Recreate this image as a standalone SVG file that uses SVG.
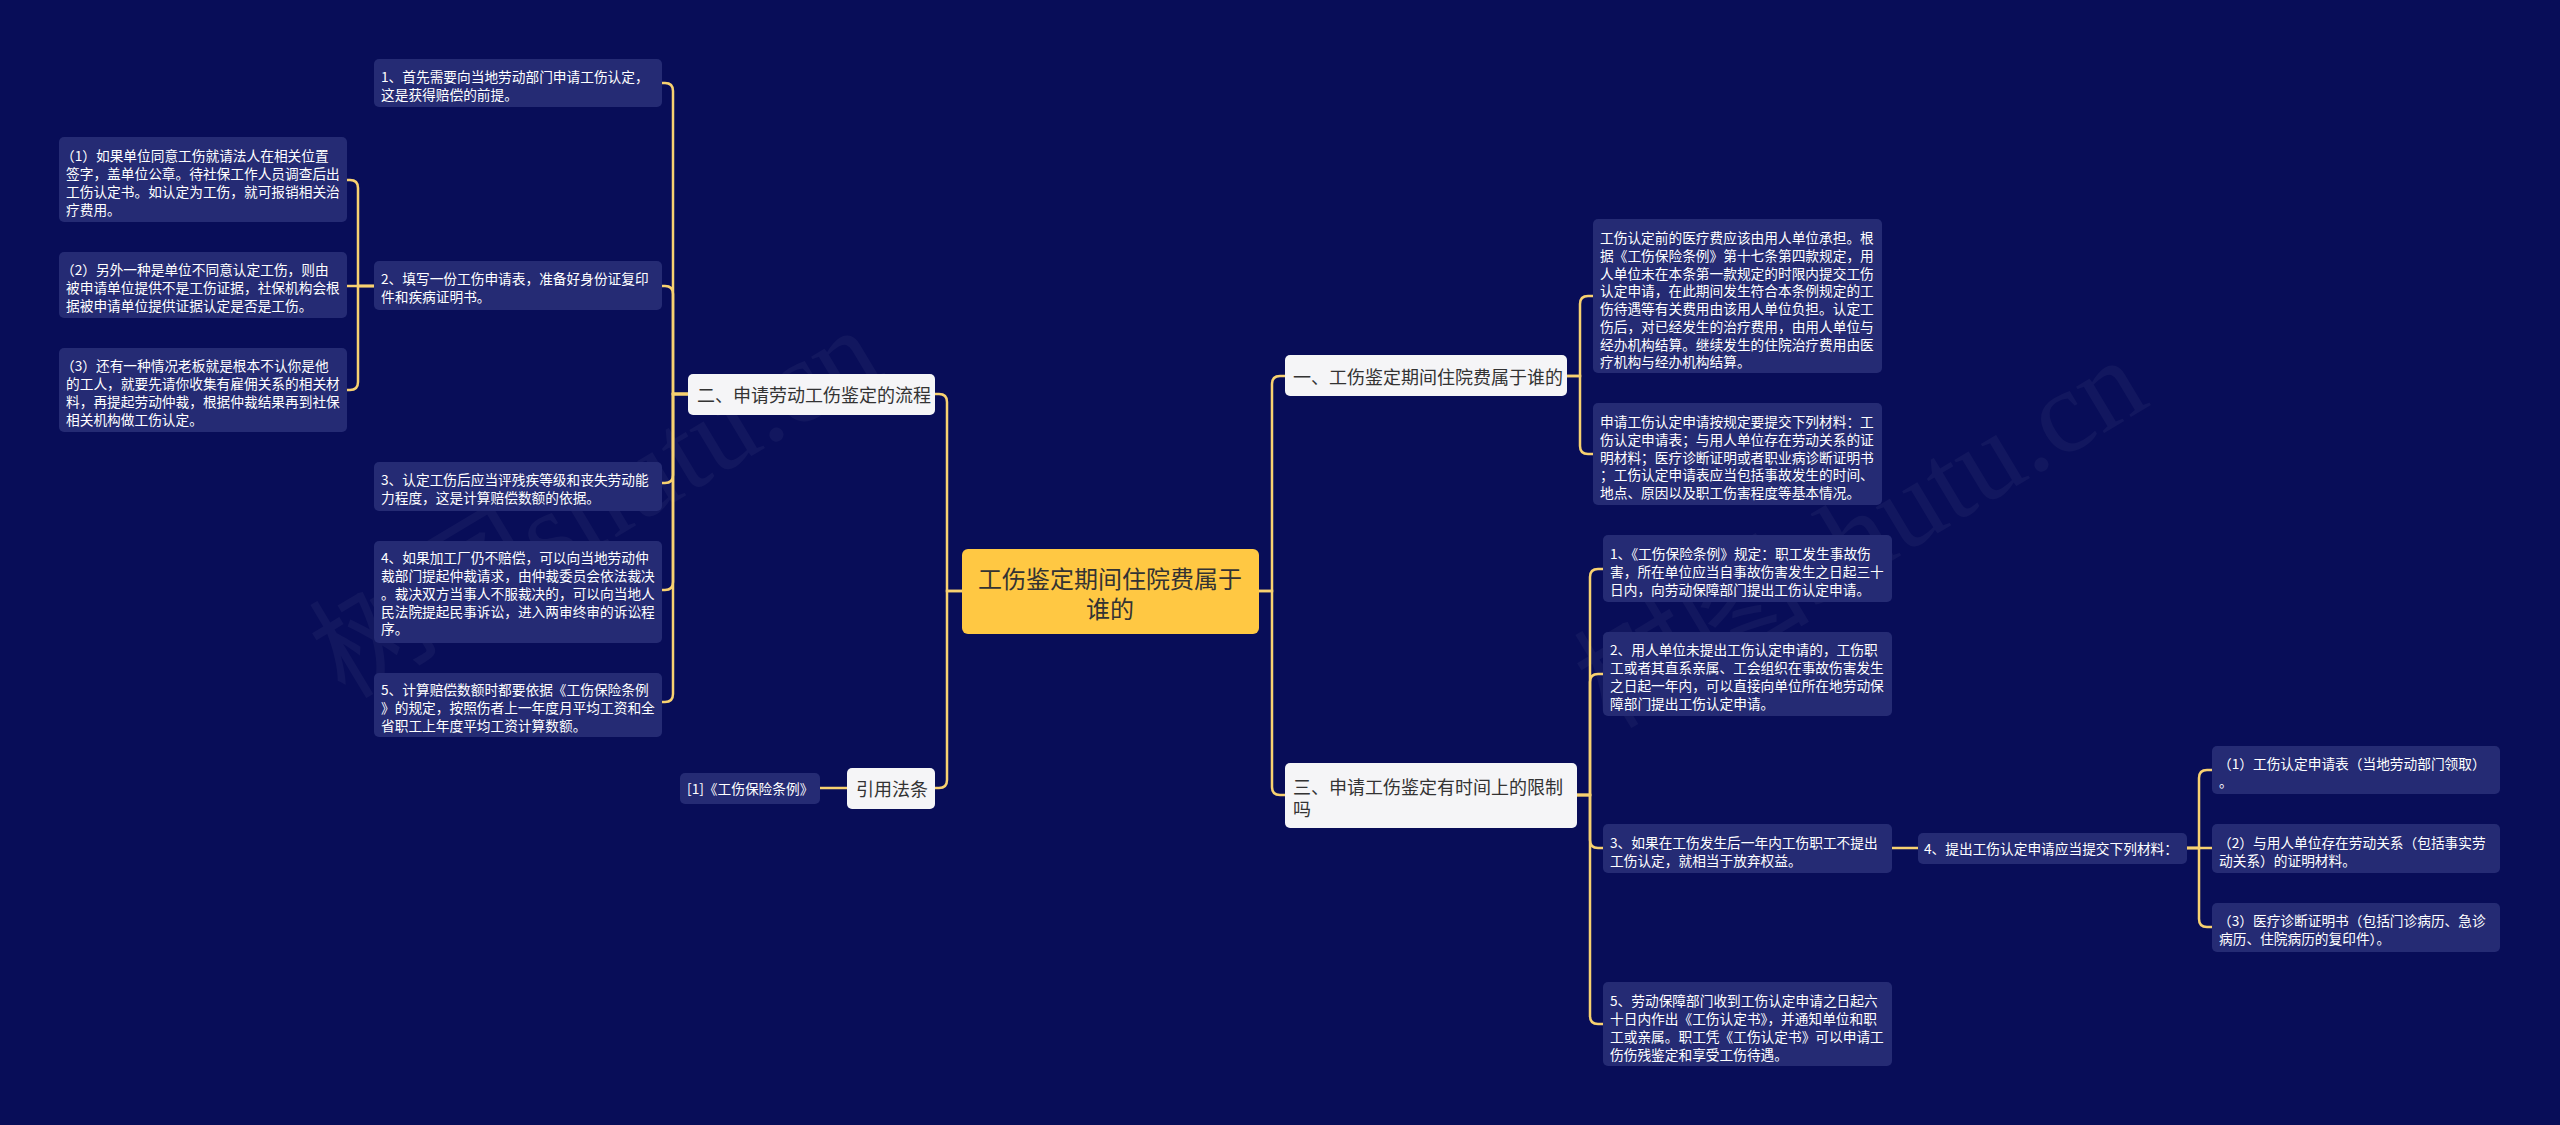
<svg xmlns="http://www.w3.org/2000/svg" width="2560" height="1125" viewBox="0 0 2560 1125">
<style>
.bg{fill:#080d58}
.box{fill:#252b74}
.l1{fill:#f5f5f7}
.t{font-family:"Noto Sans CJK SC","Noto Sans",sans-serif;font-size:13.7px;fill:#ffffff;dominant-baseline:central}
.t1{font-family:"Noto Sans CJK SC","Noto Sans",sans-serif;font-size:18px;fill:#333333;dominant-baseline:central}
.tc{font-family:"Noto Sans CJK SC","Noto Sans",sans-serif;font-size:24px;fill:#333333;dominant-baseline:central;text-anchor:middle}
.c{fill:none;stroke:#f8d170;stroke-width:2.5}
.wm{font-family:"Liberation Serif","Noto Sans CJK SC",serif;font-size:118px;fill:#ffffff;opacity:0.04}
</style>
<rect class="bg" x="0" y="0" width="2560" height="1125"/>
<g id="watermarks">
<text class="wm" transform="translate(345 700) rotate(-31)">树图shutu.cn</text>
<text class="wm" transform="translate(1610 730) rotate(-31)">树图shutu.cn</text>
</g>
<g id="connectors">
<path class="c" d="M962 591 H947 V402 Q947 394 939 394 H935"/>
<path class="c" d="M962 591 H947 V780 Q947 788 939 788 H935"/>
<path class="c" d="M688 394 H673 V91 Q673 83 665 83 H662"/>
<path class="c" d="M688 394 H673 V294 Q673 286 665 286 H662"/>
<path class="c" d="M688 394 H673 V475 Q673 483 665 483 H662"/>
<path class="c" d="M688 394 H673 V582 Q673 590 665 590 H662"/>
<path class="c" d="M688 394 H673 V694 Q673 702 665 702 H662"/>
<path class="c" d="M374 286 H358 V188 Q358 180 350 180 H347"/>
<path class="c" d="M374 286 H347"/>
<path class="c" d="M374 286 H358 V382 Q358 390 350 390 H347"/>
<path class="c" d="M847 788 H820"/>
<path class="c" d="M1259 591 H1272 V384 Q1272 376 1280 376 H1285"/>
<path class="c" d="M1259 591 H1272 V787 Q1272 795 1280 795 H1285"/>
<path class="c" d="M1567 376 H1580 V304 Q1580 296 1588 296 H1593"/>
<path class="c" d="M1567 376 H1580 V446 Q1580 454 1588 454 H1593"/>
<path class="c" d="M1577 795 H1590 V577 Q1590 569 1598 569 H1603"/>
<path class="c" d="M1577 795 H1590 V682 Q1590 674 1598 674 H1603"/>
<path class="c" d="M1577 795 H1590 V840 Q1590 848 1598 848 H1603"/>
<path class="c" d="M1577 795 H1590 V1016 Q1590 1024 1598 1024 H1603"/>
<path class="c" d="M1892 848 H1918"/>
<path class="c" d="M2187 848 H2199 V778 Q2199 770 2207 770 H2212"/>
<path class="c" d="M2187 848 H2212"/>
<path class="c" d="M2187 848 H2199 V919 Q2199 927 2207 927 H2212"/>
</g>
<g id="center">
<rect x="962" y="549" width="297" height="85" rx="6" fill="#ffc843"/>
<text class="tc" x="1110" y="577">工伤鉴定期间住院费属于</text>
<text class="tc" x="1110" y="607">谁的</text>
</g>
<g id="n-er">
<rect class="l1" x="688" y="374" width="247" height="41" rx="5"/>
<text class="t1" x="697" y="394">二、申请劳动工伤鉴定的流程</text>
</g>
<g id="n-yinyong">
<rect class="l1" x="847" y="768" width="88" height="41" rx="5"/>
<text class="t1" x="856" y="788">引用法条</text>
</g>
<g id="n-law">
<rect class="box" x="680" y="773" width="140" height="31" rx="5"/>
<text class="t" x="687" y="788">[1]《工伤保险条例》</text>
</g>
<g id="n-l1">
<rect class="box" x="374" y="59" width="288" height="48" rx="5"/>
<text class="t" x="381" y="76">1、首先需要向当地劳动部门申请工伤认定，</text>
<text class="t" x="381" y="94">这是获得赔偿的前提。</text>
</g>
<g id="n-l2">
<rect class="box" x="374" y="261" width="288" height="49" rx="5"/>
<text class="t" x="381" y="278">2、填写一份工伤申请表，准备好身份证复印</text>
<text class="t" x="381" y="296">件和疾病证明书。</text>
</g>
<g id="n-l3">
<rect class="box" x="374" y="462" width="288" height="49" rx="5"/>
<text class="t" x="381" y="479">3、认定工伤后应当评残疾等级和丧失劳动能</text>
<text class="t" x="381" y="497">力程度，这是计算赔偿数额的依据。</text>
</g>
<g id="n-l4">
<rect class="box" x="374" y="541" width="288" height="102" rx="5"/>
<text class="t" x="381" y="557">4、如果加工厂仍不赔偿，可以向当地劳动仲</text>
<text class="t" x="381" y="575">裁部门提起仲裁请求，由仲裁委员会依法裁决</text>
<text class="t" x="381" y="593">。裁决双方当事人不服裁决的，可以向当地人</text>
<text class="t" x="381" y="611">民法院提起民事诉讼，进入两审终审的诉讼程</text>
<text class="t" x="381" y="628">序。</text>
</g>
<g id="n-l5">
<rect class="box" x="374" y="673" width="288" height="64" rx="5"/>
<text class="t" x="381" y="689">5、计算赔偿数额时都要依据《工伤保险条例</text>
<text class="t" x="381" y="707">》的规定，按照伤者上一年度月平均工资和全</text>
<text class="t" x="381" y="725">省职工上年度平均工资计算数额。</text>
</g>
<g id="n-fl1">
<rect class="box" x="59" y="137" width="288" height="85" rx="5"/>
<text class="t" x="61" y="155">（1）如果单位同意工伤就请法人在相关位置</text>
<text class="t" x="66" y="173">签字，盖单位公章。待社保工作人员调查后出</text>
<text class="t" x="66" y="191">工伤认定书。如认定为工伤，就可报销相关治</text>
<text class="t" x="66" y="209">疗费用。</text>
</g>
<g id="n-fl2">
<rect class="box" x="59" y="252" width="288" height="66" rx="5"/>
<text class="t" x="61" y="269">（2）另外一种是单位不同意认定工伤，则由</text>
<text class="t" x="66" y="287">被申请单位提供不是工伤证据，社保机构会根</text>
<text class="t" x="66" y="305">据被申请单位提供证据认定是否是工伤。</text>
</g>
<g id="n-fl3">
<rect class="box" x="59" y="348" width="288" height="84" rx="5"/>
<text class="t" x="61" y="365">（3）还有一种情况老板就是根本不认你是他</text>
<text class="t" x="66" y="383">的工人，就要先请你收集有雇佣关系的相关材</text>
<text class="t" x="66" y="401">料，再提起劳动仲裁，根据仲裁结果再到社保</text>
<text class="t" x="66" y="419">相关机构做工伤认定。</text>
</g>
<g id="n-yi">
<rect class="l1" x="1285" y="355" width="282" height="41" rx="5"/>
<text class="t1" x="1293" y="376">一、工伤鉴定期间住院费属于谁的</text>
</g>
<g id="n-san">
<rect class="l1" x="1285" y="763" width="292" height="65" rx="5"/>
<text class="t1" x="1293" y="786">三、申请工伤鉴定有时间上的限制</text>
<text class="t1" x="1293" y="808">吗</text>
</g>
<g id="n-a">
<rect class="box" x="1593" y="219" width="289" height="154" rx="5"/>
<text class="t" x="1600" y="237">工伤认定前的医疗费应该由用人单位承担。根</text>
<text class="t" x="1600" y="255">据《工伤保险条例》第十七条第四款规定，用</text>
<text class="t" x="1600" y="273">人单位未在本条第一款规定的时限内提交工伤</text>
<text class="t" x="1600" y="290">认定申请，在此期间发生符合本条例规定的工</text>
<text class="t" x="1600" y="308">伤待遇等有关费用由该用人单位负担。认定工</text>
<text class="t" x="1600" y="326">伤后，对已经发生的治疗费用，由用人单位与</text>
<text class="t" x="1600" y="344">经办机构结算。继续发生的住院治疗费用由医</text>
<text class="t" x="1600" y="361">疗机构与经办机构结算。</text>
</g>
<g id="n-b">
<rect class="box" x="1593" y="403" width="289" height="102" rx="5"/>
<text class="t" x="1600" y="421">申请工伤认定申请按规定要提交下列材料：工</text>
<text class="t" x="1600" y="439">伤认定申请表；与用人单位存在劳动关系的证</text>
<text class="t" x="1600" y="457">明材料；医疗诊断证明或者职业病诊断证明书</text>
<text class="t" x="1600" y="474">；工伤认定申请表应当包括事故发生的时间、</text>
<text class="t" x="1600" y="492">地点、原因以及职工伤害程度等基本情况。</text>
</g>
<g id="n-c1">
<rect class="box" x="1603" y="535" width="289" height="67" rx="5"/>
<text class="t" x="1610" y="553">1、《工伤保险条例》规定：职工发生事故伤</text>
<text class="t" x="1610" y="571">害，所在单位应当自事故伤害发生之日起三十</text>
<text class="t" x="1610" y="589">日内，向劳动保障部门提出工伤认定申请。</text>
</g>
<g id="n-c2">
<rect class="box" x="1603" y="632" width="289" height="84" rx="5"/>
<text class="t" x="1610" y="649">2、用人单位未提出工伤认定申请的，工伤职</text>
<text class="t" x="1610" y="667">工或者其直系亲属、工会组织在事故伤害发生</text>
<text class="t" x="1610" y="685">之日起一年内，可以直接向单位所在地劳动保</text>
<text class="t" x="1610" y="703">障部门提出工伤认定申请。</text>
</g>
<g id="n-c3">
<rect class="box" x="1603" y="824" width="289" height="49" rx="5"/>
<text class="t" x="1610" y="842">3、如果在工伤发生后一年内工伤职工不提出</text>
<text class="t" x="1610" y="860">工伤认定，就相当于放弃权益。</text>
</g>
<g id="n-c5">
<rect class="box" x="1603" y="982" width="289" height="84" rx="5"/>
<text class="t" x="1610" y="1000">5、劳动保障部门收到工伤认定申请之日起六</text>
<text class="t" x="1610" y="1018">十日内作出《工伤认定书》，并通知单位和职</text>
<text class="t" x="1610" y="1036">工或亲属。职工凭《工伤认定书》可以申请工</text>
<text class="t" x="1610" y="1054">伤伤残鉴定和享受工伤待遇。</text>
</g>
<g id="n-d">
<rect class="box" x="1918" y="833" width="269" height="31" rx="5"/>
<text class="t" x="1924" y="848">4、提出工伤认定申请应当提交下列材料：</text>
</g>
<g id="n-e1">
<rect class="box" x="2212" y="746" width="288" height="48" rx="5"/>
<text class="t" x="2218" y="763">（1）工伤认定申请表（当地劳动部门领取）</text>
<text class="t" x="2219" y="781">。</text>
</g>
<g id="n-e2">
<rect class="box" x="2212" y="824" width="288" height="49" rx="5"/>
<text class="t" x="2218" y="842">（2）与用人单位存在劳动关系（包括事实劳</text>
<text class="t" x="2219" y="860">动关系）的证明材料。</text>
</g>
<g id="n-e3">
<rect class="box" x="2212" y="903" width="288" height="49" rx="5"/>
<text class="t" x="2218" y="920">（3）医疗诊断证明书（包括门诊病历、急诊</text>
<text class="t" x="2219" y="938">病历、住院病历的复印件）。</text>
</g>
</svg>
